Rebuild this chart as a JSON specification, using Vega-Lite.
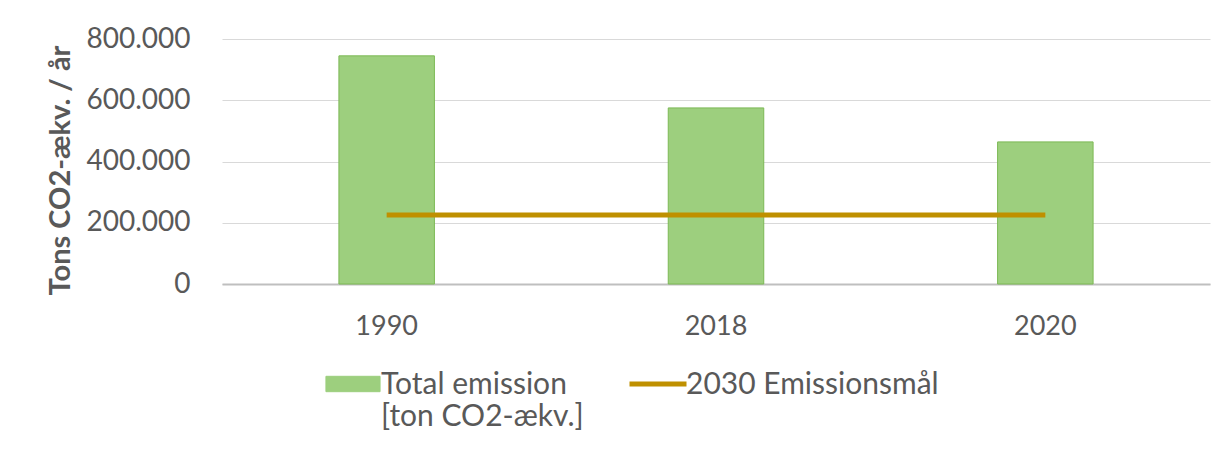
{
  "$schema": "https://vega.github.io/schema/vega-lite/v6.json",
  "autosize": {"type": "none"},
  "width": 988,
  "height": 245,
  "padding": {"left": 222, "top": 39, "right": 13, "bottom": 181},
  "background": "white",
  "config": {
    "view": {"stroke": null},
    "font": "Lato",
    "locale": {"number": {"decimal": ",", "thousands": ".", "grouping": [3], "currency": ["", " kr."]}},
    "legend": {
      "title": null, "orient": "none", "legendX": 116, "legendY": 330, "direction": "horizontal",
      "columns": 2, "columnPadding": 35,
      "symbolSize": 3249, "labelFontSize": 30, "labelColor": "#595959", "labelFont": "Lato",
      "labelOffset": 13, "labelLimit": 400
    }
  },
  "data": {
    "values": [
      {"year": "1990", "emission": 745000, "target": 225000},
      {"year": "2018", "emission": 575000, "target": 225000},
      {"year": "2020", "emission": 464000, "target": 225000}
    ]
  },
  "encoding": {
    "x": {
      "field": "year", "type": "nominal", "sort": null,
      "scale": {"paddingInner": 0.71, "paddingOuter": 0.355},
      "axis": {
        "title": null, "labelAngle": 0, "ticks": false, "domainColor": "#bfbfbf", "domainWidth": 2,
        "labelFontSize": 27, "labelColor": "#595959", "labelPadding": 29, "labelFont": "Lato"
      }
    }
  },
  "layer": [
    {
      "mark": {"type": "bar", "stroke": "#7cb955", "strokeWidth": 1},
      "encoding": {
        "y": {
          "field": "emission", "type": "quantitative",
          "scale": {"domain": [0, 800000], "nice": false},
          "axis": {
            "title": "Tons CO2-ækv. / år", "titleFontSize": 29, "titleFontWeight": "bold", "titleColor": "#595959",
            "titleFont": "Lato", "titlePadding": 10, "titleY": 131,
            "values": [0, 200000, 400000, 600000, 800000], "format": ",d",
            "ticks": false, "domain": false, "gridColor": "#d9d9d9", "gridWidth": 1,
            "labelFontSize": 28, "labelColor": "#595959", "labelPadding": 32, "labelFont": "Lato"
          }
        },
        "color": {
          "datum": "Total emission",
          "scale": {"domain": ["Total emission", "2030 Emissionsmål"], "range": ["#9dcf7e", "#bf9000"]},
          "legend": {
            "labelExpr": "datum.value == 'Total emission' ? ['Total emission', '[ton CO2-ækv.]'] : [datum.label, ' ']",
            "encode": {
              "labels": {"update": {"baseline": {"value": "top"}, "dy": {"value": -14}, "lineHeight": {"value": 32}}},
              "symbols": {"update": {
                "shape": {"signal": "datum.value == 'Total emission' ? 'M-0.95,-0.27H0.95V0.27H-0.95Z' : 'M-1,0H1'"},
                "fill": {"signal": "datum.value == 'Total emission' ? '#9dcf7e' : 'transparent'"},
                "stroke": {"signal": "datum.value == 'Total emission' ? '#7cb955' : '#bf9000'"},
                "strokeWidth": {"signal": "datum.value == 'Total emission' ? 1 : 5"},
                "opacity": {"value": 1}
              }}
            }
          }
        }
      }
    },
    {
      "mark": {"type": "line", "strokeWidth": 5},
      "encoding": {
        "y": {"field": "target", "type": "quantitative"},
        "color": {
          "datum": "2030 Emissionsmål",
          "legend": {
            "labelExpr": "datum.value == 'Total emission' ? ['Total emission', '[ton CO2-ækv.]'] : [datum.label, ' ']",
            "encode": {
              "labels": {"update": {"baseline": {"value": "top"}, "dy": {"value": -14}, "lineHeight": {"value": 32}}},
              "symbols": {"update": {
                "shape": {"signal": "datum.value == 'Total emission' ? 'M-0.95,-0.27H0.95V0.27H-0.95Z' : 'M-1,0H1'"},
                "fill": {"signal": "datum.value == 'Total emission' ? '#9dcf7e' : 'transparent'"},
                "stroke": {"signal": "datum.value == 'Total emission' ? '#7cb955' : '#bf9000'"},
                "strokeWidth": {"signal": "datum.value == 'Total emission' ? 1 : 5"},
                "opacity": {"value": 1}
              }}
            }
          }
        }
      }
    }
  ]
}
